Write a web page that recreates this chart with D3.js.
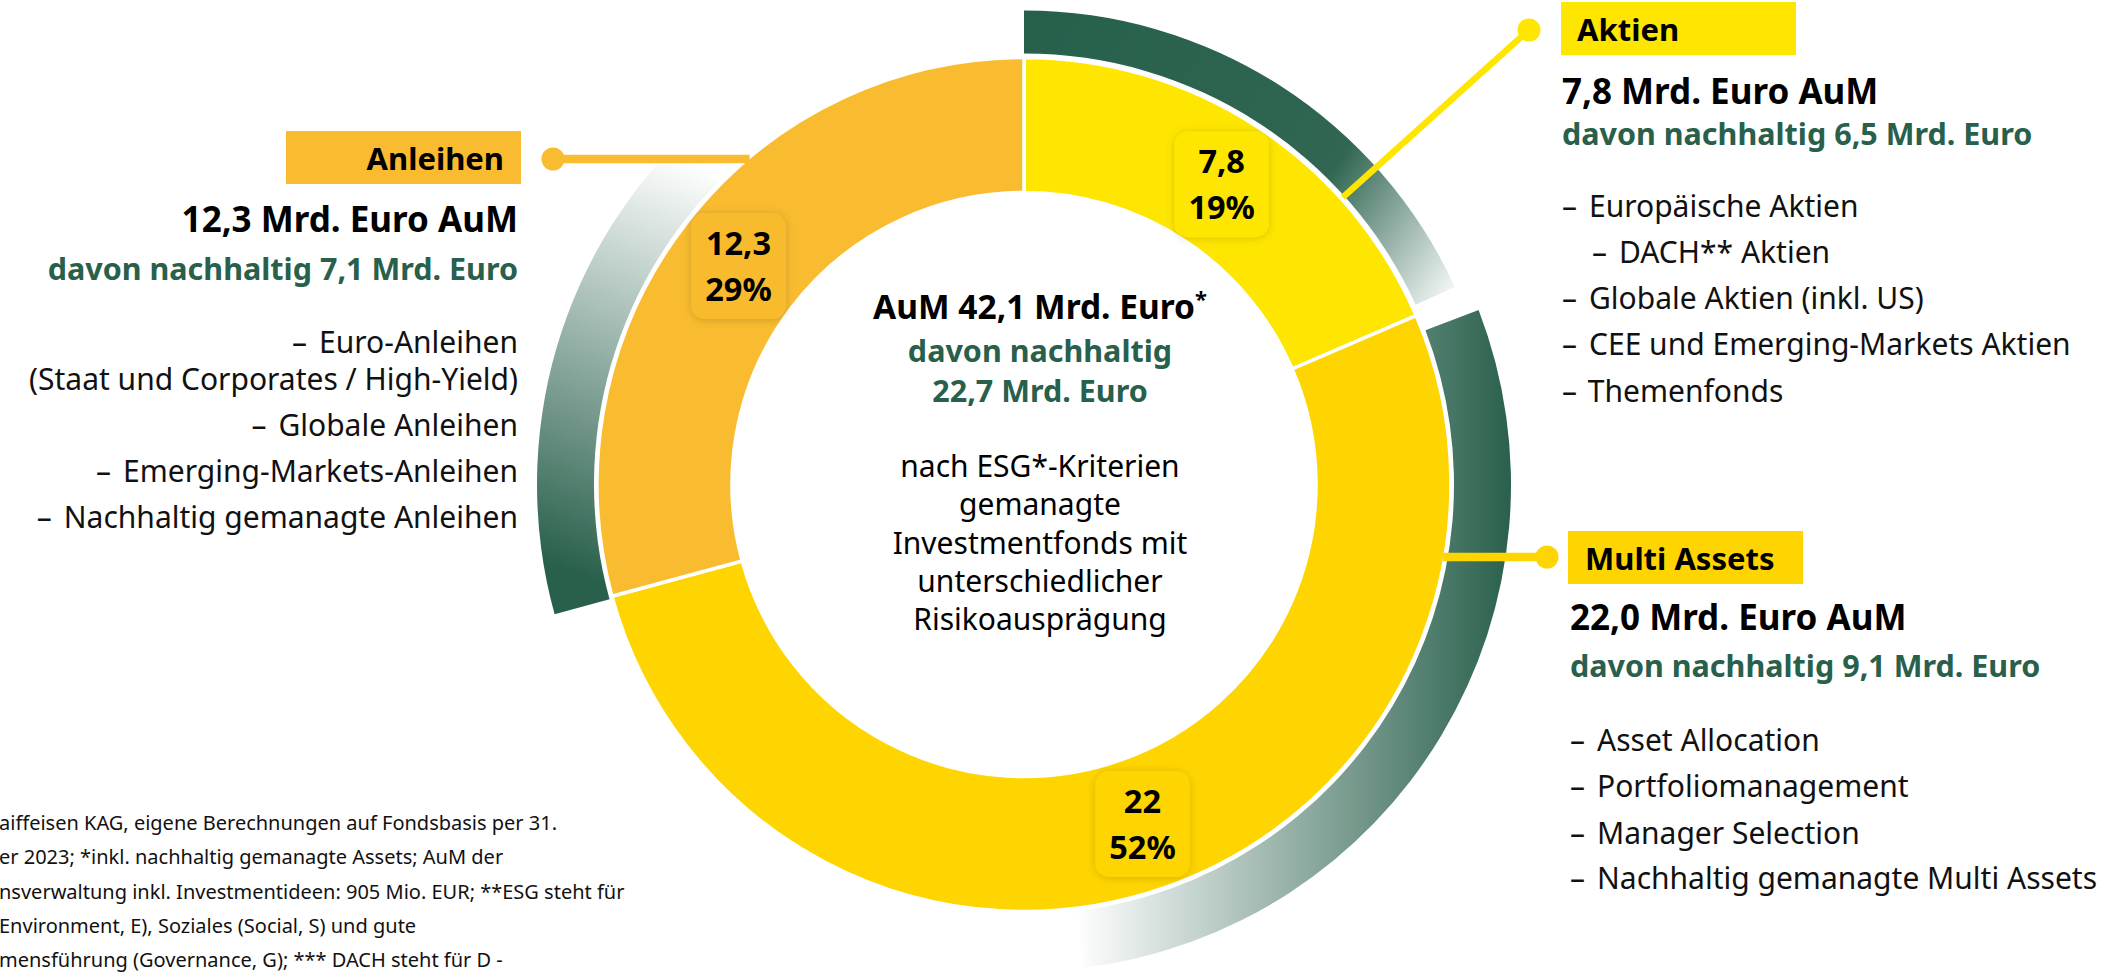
<!DOCTYPE html>
<html>
<head>
<meta charset="utf-8">
<script src="https://cdn.jsdelivr.net/npm/d3@7"></script>
<style>
  body { margin: 0; background: #fff; }
  svg { display: block; font-family: "Noto Sans", sans-serif; }
</style>
</head>
<body>
<svg width="2122" height="979"></svg>
<script>
// Daten
const kategorien = ["Aktien", "Multi Assets", "Anleihen"];
const aum = [7.8, 22.0, 12.3];            // Mrd. Euro
const nachhaltig = [6.5, 9.1, 7.1];       // Mrd. Euro
const gruenAbdeckung = [0.98, 0.565, 0.60]; // Anteil des Segments mit grünem Band

const aktienListe = ["Europäische Aktien", "DACH** Aktien", "Globale Aktien (inkl. US)",
  "CEE und Emerging-Markets Aktien", "Themenfonds"];
const anleihenListe = ["Euro-Anleihen", "(Staat und Corporates / High-Yield)", "Globale Anleihen",
  "Emerging-Markets-Anleihen", "Nachhaltig gemanagte Anleihen"];
const multiListe = ["Asset Allocation", "Portfoliomanagement", "Manager Selection",
  "Nachhaltig gemanagte Multi Assets"];

const mitteText = ["nach ESG*-Kriterien", "gemanagte", "Investmentfonds mit",
  "unterschiedlicher", "Risikoausprägung"];

const fussnote = [
  "aiffeisen KAG, eigene Berechnungen auf Fondsbasis per 31.",
  "er 2023; *inkl. nachhaltig gemanagte Assets; AuM der",
  "nsverwaltung inkl. Investmentideen: 905 Mio. EUR; **ESG steht für",
  "Environment, E), Soziales (Social, S) und gute",
  "mensführung (Governance, G); *** DACH steht für D -"
];

const de = d3.formatLocale({ decimal: ",", thousands: ".", grouping: [3], currency: ["", " €"] });
const fmtKurz = de.format("~g");
const fmt1 = de.format(".1f");
const fmtPct = de.format(".0%");

const svg = d3.select("svg");
const cx = 1024, cy = 484.5;
const rInnen = 292, rAussen = 427;
const gesamt = d3.sum(aum);
const gesamtNachhaltig = d3.sum(nachhaltig);

const farbe = d3.scaleOrdinal(kategorien, ["#ffe600", "#fed500", "#f9bb2f"]);
const gruen = "#28604b";

const pie = d3.pie().sort(null).value(d => d);
const stuecke = pie(aum);
const arc = d3.arc().innerRadius(rInnen).outerRadius(rAussen);

const defs = svg.append("defs");
const schatten = defs.append("filter").attr("id", "schatten")
  .attr("x", "-30%").attr("y", "-30%").attr("width", "160%").attr("height", "160%");
schatten.append("feDropShadow").attr("dx", 0).attr("dy", 1).attr("stdDeviation", 4)
  .attr("flood-color", "#000").attr("flood-opacity", 0.16);

const g = svg.append("g").attr("transform", `translate(${cx},${cy})`);

// grüne Bänder (nachhaltiger Anteil)
const band = {
  "Aktien":       { r: [431, 474], versatz: 0,      richtung: "diag",  stops: [[0, "#26604b"], [0.66, "#306652"], [1, "#ffffff"]] },
  "Multi Assets": { r: [430, 487], versatz: 0.04,   richtung: "horiz", stops: [[0, "#ffffff"], [1, "#29604c"]] },
  "Anleihen":     { r: [430, 487], versatz: -0.005, richtung: "aufw",  stops: [[0.1, "#29604c"], [0.9, "#ffffff"]] }
};

stuecke.forEach((s, i) => {
  const b = band[kategorien[i]];
  const start = s.startAngle + b.versatz;
  const ende = s.startAngle + (s.endAngle - s.startAngle) * gruenAbdeckung[i];
  const pfad = g.append("path")
    .attr("d", d3.arc().innerRadius(b.r[0]).outerRadius(b.r[1])({ startAngle: start, endAngle: ende }));
  const bb = pfad.node().getBBox();
  let k;
  if (b.richtung === "diag") k = [bb.x, bb.y, bb.x + bb.width, bb.y + bb.height];
  else if (b.richtung === "horiz") k = [bb.x, bb.y + bb.height / 2, bb.x + bb.width, bb.y + bb.height / 2];
  else k = [bb.x, bb.y + bb.height, bb.x + bb.width, bb.y];
  const grad = defs.append("linearGradient").attr("id", "band" + i)
    .attr("gradientUnits", "userSpaceOnUse")
    .attr("x1", k[0]).attr("y1", k[1]).attr("x2", k[2]).attr("y2", k[3]);
  b.stops.forEach(st => grad.append("stop").attr("offset", st[0]).attr("stop-color", st[1]));
  pfad.attr("fill", `url(#band${i})`);
});

// Ring
g.selectAll("path.seg")
  .data(stuecke)
  .join("path")
  .attr("class", "seg")
  .attr("d", arc)
  .attr("fill", (d, i) => farbe(kategorien[i]))
  .attr("stroke", "#fff")
  .attr("stroke-width", 3.5);

// Verbindungslinien
const punkte = {
  "Aktien":       { dot: [1529, 30], winkel: 48 * Math.PI / 180, w: 6.5 },
  "Multi Assets": { dot: [1547, 557], w: 8.5 },
  "Anleihen":     { dot: [553, 159], w: 8.5 }
};
kategorien.forEach((k, i) => {
  const p = punkte[k];
  let ex, ey;
  if (p.winkel !== undefined) {
    ex = cx + (rAussen + 2) * Math.sin(p.winkel);
    ey = cy - (rAussen + 2) * Math.cos(p.winkel);
  } else {
    const dy = p.dot[1] - cy;
    const dx = Math.sqrt(rAussen * rAussen - dy * dy) - 2;
    ex = p.dot[0] > cx ? cx + dx : cx - dx;
    ey = p.dot[1];
  }
  svg.append("line")
    .attr("x1", p.dot[0]).attr("y1", p.dot[1]).attr("x2", ex).attr("y2", ey)
    .attr("stroke", farbe(k)).attr("stroke-width", p.w);
  svg.append("circle").attr("cx", p.dot[0]).attr("cy", p.dot[1]).attr("r", 11.5).attr("fill", farbe(k));
});

// Wertboxen
const mitteR = (rInnen + rAussen) / 2;
stuecke.forEach((s, i) => {
  const a = (s.startAngle + s.endAngle) / 2;
  const bx = cx + mitteR * Math.sin(a), by = cy - mitteR * Math.cos(a);
  const box = svg.append("g").attr("transform", `translate(${bx},${by})`);
  const rect = box.append("rect").attr("fill", farbe(kategorien[i])).attr("filter", "url(#schatten)");
  const t1 = box.append("text").attr("y", -11).attr("text-anchor", "middle")
    .attr("font-weight", 700).attr("font-size", 32.5).text(fmtKurz(aum[i]));
  const t2 = box.append("text").attr("y", 35).attr("text-anchor", "middle")
    .attr("font-weight", 700).attr("font-size", 32.5).text(fmtPct(aum[i] / gesamt));
  const bw = Math.max(t1.node().getComputedTextLength(), t2.node().getComputedTextLength()) + 28;
  rect.attr("x", -bw / 2).attr("y", -53).attr("width", bw).attr("height", 106).attr("rx", 14);
});

// Mitte
const mx = 1040;
const titel = svg.append("text").attr("x", mx).attr("y", 319).attr("text-anchor", "middle")
  .attr("font-weight", 700).attr("font-size", 33.5).attr("fill", "#000");
titel.append("tspan").text(`AuM ${fmt1(gesamt)} Mrd. Euro`);
titel.append("tspan").attr("dy", -12).attr("font-size", 22).text("*");
svg.append("text").attr("x", mx).attr("y", 362).attr("text-anchor", "middle")
  .attr("font-weight", 700).attr("font-size", 30.5).attr("fill", gruen).text("davon nachhaltig");
svg.append("text").attr("x", mx).attr("y", 402).attr("text-anchor", "middle")
  .attr("font-weight", 700).attr("font-size", 30.5).attr("fill", gruen).text(`${fmt1(gesamtNachhaltig)} Mrd. Euro`);
mitteText.forEach((t, j) => {
  svg.append("text").attr("x", mx).attr("y", 477 + j * 38.3).attr("text-anchor", "middle")
    .attr("font-size", 30).attr("fill", "#000").text(t);
});

// Textblöcke
function block(o) {
  const i = kategorien.indexOf(o.kat);
  svg.append("rect").attr("x", o.boxX).attr("y", o.boxY).attr("width", 235).attr("height", 53)
    .attr("fill", farbe(o.kat));
  svg.append("text").attr("x", o.labelX).attr("y", o.boxY + 39).attr("text-anchor", o.anchor)
    .attr("font-weight", 700).attr("font-size", 31).attr("fill", "#000").text(o.kat);
  svg.append("text").attr("x", o.x).attr("y", o.kopfY).attr("text-anchor", o.anchor)
    .attr("font-weight", 700).attr("font-size", 35).attr("fill", "#000")
    .text(`${fmt1(aum[i])} Mrd. Euro AuM`);
  svg.append("text").attr("x", o.x).attr("y", o.gruenY).attr("text-anchor", o.anchor)
    .attr("font-weight", 700).attr("font-size", 30.5).attr("fill", gruen)
    .text(`davon nachhaltig ${fmt1(nachhaltig[i])} Mrd. Euro`);
  o.liste.forEach((t, j) => {
    const txt = svg.append("text").attr("x", o.x + (o.einzug[j] || 0)).attr("y", o.zeilenY[j])
      .attr("text-anchor", o.anchor).attr("font-size", 30).attr("fill", "#111");
    if (o.ohneStrich && o.ohneStrich[j]) {
      txt.text(t);
    } else {
      txt.append("tspan").text("–");
      txt.append("tspan").attr("dx", 12).text(t);
    }
  });
}

block({
  kat: "Anleihen", anchor: "end", x: 518, boxX: 286, boxY: 131, labelX: 504,
  kopfY: 232, gruenY: 280, liste: anleihenListe, zeilenY: [353, 390, 436, 482, 528],
  einzug: [], ohneStrich: [false, true, false, false, false]
});
block({
  kat: "Aktien", anchor: "start", x: 1562, boxX: 1561, boxY: 2, labelX: 1577,
  kopfY: 104, gruenY: 145, liste: aktienListe, zeilenY: [217, 263, 309, 355, 402],
  einzug: [0, 30, 0, 0, 0]
});
block({
  kat: "Multi Assets", anchor: "start", x: 1570, boxX: 1568, boxY: 531, labelX: 1585,
  kopfY: 630, gruenY: 677, liste: multiListe, zeilenY: [751, 797, 844, 889],
  einzug: []
});

// Fußnote
fussnote.forEach((t, j) => {
  svg.append("text").attr("x", -1).attr("y", 830 + j * 34.3)
    .attr("font-size", 20).attr("fill", "#111").text(t);
});
</script>
</body>
</html>
